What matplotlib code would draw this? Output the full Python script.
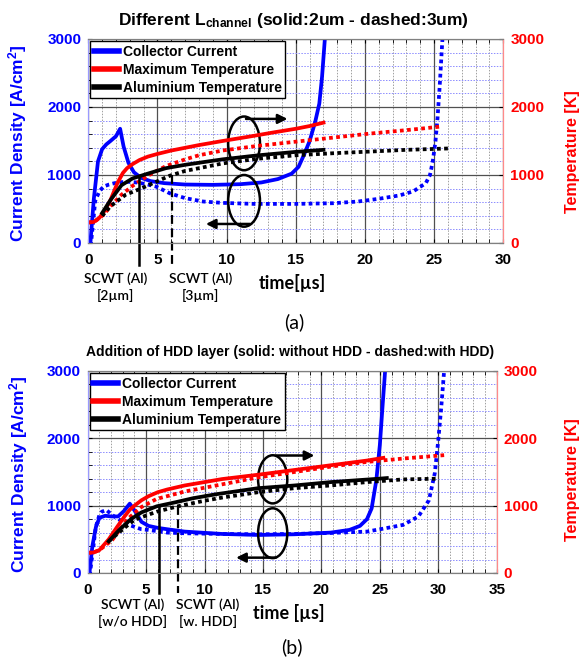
import matplotlib
matplotlib.use("Agg")
import matplotlib.pyplot as plt
from matplotlib.lines import Line2D
from matplotlib.patches import Ellipse
from matplotlib.ticker import MultipleLocator

plt.rcParams['font.family'] = ['Liberation Sans', 'DejaVu Sans']
plt.rcParams['font.weight'] = 'bold'
plt.rcParams['axes.labelweight'] = 'bold'
plt.rcParams['mathtext.fontset'] = 'custom'
plt.rcParams['mathtext.rm'] = 'Liberation Sans:bold'
plt.rcParams['mathtext.bf'] = 'Liberation Sans:bold'
plt.rcParams['mathtext.default'] = 'bf'

BLUE = '#0000ff'
RED = '#ff0000'
NOTE_FONT = ['Lato', 'DejaVu Sans']

### (a) channel length 2um (solid) vs 3um (dashed)

A_T_CUR_2UM = [0, 0.15, 0.4, 0.7, 1.0, 1.3, 1.6, 2.0, 2.3, 2.55, 2.9, 3.3, 3.8, 4.5, 5.5, 7, 9, 11,
               12.5, 13.7, 14.7, 15.2, 15.6, 16.0, 16.4, 16.7, 16.9, 17.1]
A_CUR_2UM = [0, 0, 650, 1200, 1380, 1450, 1500, 1570, 1680, 1420, 1180, 1040, 960, 910, 880, 860, 855, 865,
             890, 940, 1020, 1120, 1300, 1500, 1780, 2050, 2450, 3000]

A_T_CUR_3UM = [0, 0.2, 0.5, 0.8, 1.1, 1.5, 1.9, 2.4, 2.9, 3.5, 4.2, 4.9, 5.9, 7.0, 8.3, 9.7, 12, 15, 17.7,
               19.5, 21, 22.5, 23.5, 24.4, 24.7, 24.9, 25.1, 25.25, 25.4, 25.6]
A_CUR_3UM = [0, 0, 620, 760, 830, 860, 880, 895, 900, 890, 865, 830, 730, 660, 610, 590, 575, 575, 585,
             610, 650, 700, 760, 880, 1000, 1200, 1500, 1850, 2300, 3000]

A_T_TMAX_2UM = [0, 0.4, 0.8, 1.2, 1.6, 2.1, 2.5, 2.8, 3.2, 3.7, 4.3, 5.0, 6.0, 7.0, 8.0, 9.7, 11.5, 13.5,
                15.0, 16.0, 17.0]
A_TMAX_2UM = [300, 310, 370, 480, 630, 880, 1030, 1100, 1160, 1220, 1270, 1310, 1360, 1400, 1440, 1500,
              1560, 1630, 1680, 1720, 1770]

A_T_TMAX_3UM = [0, 0.5, 1.1, 1.6, 2.4, 3.2, 4.3, 5.6, 7.0, 8.0, 9.7, 12.3, 15.0, 17.7, 20.4, 23.0, 25.4]
A_TMAX_3UM = [300, 320, 415, 540, 710, 840, 990, 1130, 1230, 1290, 1360, 1430, 1490, 1550, 1610, 1660, 1710]

A_T_TAL_2UM = [1.0, 1.6, 2.4, 3.2, 4.3, 5.6, 7.0, 8.0, 9.7, 12.3, 15.0, 17.0]
A_TAL_2UM = [440, 630, 850, 950, 1020, 1100, 1150, 1180, 1230, 1290, 1340, 1370]

A_T_TAL_3UM = [1.0, 1.6, 2.7, 3.8, 4.9, 5.9, 7.0, 8.0, 9.7, 12.3, 15.0, 17.7, 20.4, 23.0, 26.0]
A_TAL_3UM = [400, 540, 710, 800, 900, 990, 1060, 1100, 1170, 1240, 1290, 1320, 1345, 1370, 1390]

# short-circuit withstand times and where the markers start on the curves
A_SCWT = [3.65, 6.03]
A_SCWT_TOP = [960, 1000]
A_SCWT_LABELS = ["SCWT (Al)\n[2\u00b5m]", "SCWT (Al)\n[3\u00b5m]"]
A_SCWT_LABEL_X = [1.95, 8.1]

### (b) without HDD (solid) vs with HDD (dashed)

B_T_CUR_NOHDD = [0, 0.15, 0.4, 0.7, 1.0, 1.5, 2.0, 2.6, 3.1, 3.6, 4.0, 4.6, 5.2, 6.0, 6.8, 8.3, 11.5, 14.6,
                 17.7, 20.8, 22.4, 23.3, 23.9, 24.3, 24.7, 25.0, 25.2, 25.45]
B_CUR_NOHDD = [0, 0, 400, 680, 820, 850, 840, 840, 920, 1030, 930, 760, 700, 670, 650, 615, 580, 565,
               575, 600, 640, 700, 800, 960, 1380, 1900, 2400, 3000]

B_T_CUR_HDD = [0, 0.2, 0.7, 1.0, 1.2, 1.6, 2.1, 3.0, 3.6, 4.6, 5.2, 6.8, 8.3, 11.5, 14.6, 17.7, 20.8,
               23.9, 25.5, 27.0, 28.3, 29.2, 29.7, 30.0, 30.25, 30.5]
B_CUR_HDD = [0, 0, 690, 860, 910, 935, 860, 760, 710, 650, 640, 600, 590, 580, 575, 580, 595,
             615, 665, 715, 840, 1080, 1480, 1970, 2450, 3000]

B_T_TMAX_NOHDD = [0, 0.5, 1.0, 1.8, 2.5, 3.15, 3.6, 4.0, 4.6, 5.2, 6.0, 6.8, 8.3, 11.5, 14.6, 17.7, 20.8,
                  23.9, 25.3]
B_TMAX_NOHDD = [300, 305, 340, 500, 680, 840, 940, 1000, 1080, 1140, 1200, 1240, 1300, 1395, 1460, 1530,
                1600, 1670, 1710]

B_T_TMAX_HDD = [0, 0.5, 1.0, 2.1, 3.4, 4.6, 5.9, 8.3, 11.0, 14.6, 17.7, 20.8, 23.9, 27.0, 30.5]
B_TMAX_HDD = [300, 305, 340, 490, 800, 980, 1100, 1210, 1300, 1420, 1500, 1580, 1650, 1700, 1750]

B_T_TAL_NOHDD = [1.8, 2.7, 3.7, 4.6, 5.9, 7.5, 9.0, 11.0, 14.6, 17.7, 20.8, 24.9, 25.6]
B_TAL_NOHDD = [470, 640, 800, 900, 990, 1050, 1110, 1170, 1260, 1300, 1350, 1400, 1410]

B_T_TAL_HDD = [1.8, 3.0, 4.0, 5.9, 7.7, 9.9, 11.5, 14.6, 17.7, 20.8, 23.9, 27.0, 29.8]
B_TAL_HDD = [470, 650, 790, 910, 990, 1070, 1120, 1200, 1260, 1300, 1350, 1390, 1400]

B_SCWT = [6.08, 7.73]
B_SCWT_TOP = [995, 1000]
B_SCWT_LABELS = ["SCWT (Al)\n[w/o HDD]", "SCWT (Al)\n[w. HDD]"]
B_SCWT_LABEL_X = [3.83, 10.3]

LEGEND_LABELS = ["Collector Current", "Maximum Temperature", "Aluminium Temperature"]
Y_TICKS = [0, 1000, 2000, 3000]

DOTS = (0, (1.0, 0.9))


def setup_axes(fig, rect, xmax):
	ax = fig.add_axes(rect)
	ax2 = ax.twinx()
	ax.set_xlim(0, xmax)
	ax.set_ylim(0, 3000)
	ax2.set_ylim(0, 3000)
	ax.xaxis.set_major_locator(MultipleLocator(5))
	ax.xaxis.set_minor_locator(MultipleLocator(1))
	ax.set_yticks(Y_TICKS)
	ax2.set_yticks(Y_TICKS)
	ax.yaxis.set_minor_locator(MultipleLocator(200))

	# MATLAB-ish grid: solid majors, dotted minors
	ax.grid(which='major', axis='both', color='#505050', lw=0.9, ls='-')
	ax.grid(which='minor', axis='x', color='#a0a0a0', lw=0.7, ls=(0, (1.5, 1.5)))
	ax.grid(which='minor', axis='y', color='#8c8cff', lw=0.7, ls=(0, (1.5, 1.5)))
	ax.set_axisbelow(True)

	ax.tick_params(which='both', direction='in', top=True, right=False, length=3)
	ax.tick_params(axis='x', which='major', labelsize=11, pad=7)
	ax.tick_params(axis='y', labelsize=11, labelcolor=BLUE, pad=5)
	ax2.tick_params(which='both', direction='in', length=3, labelsize=11, labelcolor=RED, pad=5)
	for lab in ax.get_xticklabels() + ax.get_yticklabels() + ax2.get_yticklabels():
		lab.set_fontweight('bold')

	for a in (ax, ax2):
		a.spines['left'].set_color('#9a9aff')
		a.spines['right'].set_color('#ff8a8a')
		a.spines['top'].set_color('#808080')
		a.spines['bottom'].set_color('#808080')
	return ax, ax2


def draw_panel(ax, ax2, cur, tmax, tal):
	lw = 2.7
	ax.plot(cur[0], cur[1], color=BLUE, lw=lw)
	ax.plot(cur[2], cur[3], color=BLUE, lw=lw, ls=DOTS)
	ax2.plot(tmax[0], tmax[1], color=RED, lw=lw)
	ax2.plot(tmax[2], tmax[3], color=RED, lw=lw, ls=DOTS)
	ax2.plot(tal[0], tal[1], color='k', lw=lw)
	ax2.plot(tal[2], tal[3], color='k', lw=lw, ls=DOTS)

	handles = [Line2D([], [], color=c, lw=4) for c in (BLUE, RED, 'k')]
	leg = ax2.legend(handles, LEGEND_LABELS, loc='upper left', fontsize=10, handlelength=1.8,
					 handletextpad=0.3, labelspacing=0.3, borderpad=0.25, borderaxespad=0.15,
					 fancybox=False, framealpha=1, edgecolor='k')
	leg.get_frame().set_linewidth(1.0)


def scwt_markers(ax, times, tops, labels, label_x, bottom, label_y):
	ax.plot([times[0], times[0]], [tops[0], bottom], color='k', lw=1.8, clip_on=False)
	ax.plot([times[1], times[1]], [tops[1], bottom], color='k', lw=1.6, ls=(0, (4, 2)), clip_on=False)
	for x, s in zip(label_x, labels):
		ax.text(x, label_y, s, ha='center', va='center', fontsize=10, family=NOTE_FONT,
				fontweight='semibold', linespacing=1.35, clip_on=False)


def ellipse_arrows(ax, x, top_c, bot_c, w, h_top, h_bot, arrow_top, arrow_bot):
	ax.add_patch(Ellipse((x, top_c), w, h_top, fill=False, ec='k', lw=1.8))
	ax.add_patch(Ellipse((x, bot_c), w, h_bot, fill=False, ec='k', lw=1.8))
	style = dict(arrowstyle='-|>', color='k', lw=1.8, mutation_scale=14, shrinkA=0, shrinkB=0)
	ax.annotate('', xy=arrow_top[1], xytext=arrow_top[0], arrowprops=style)
	ax.annotate('', xy=arrow_bot[1], xytext=arrow_bot[0], arrowprops=style)


fig = plt.figure(figsize=(5.79, 6.59), dpi=100)

### panel (a)
ax, ax2 = setup_axes(fig, [88.3 / 579, 1 - 243 / 659, 415 / 579, 204 / 659], 30)
draw_panel(ax, ax2,
		   (A_T_CUR_2UM, A_CUR_2UM, A_T_CUR_3UM, A_CUR_3UM),
		   (A_T_TMAX_2UM, A_TMAX_2UM, A_T_TMAX_3UM, A_TMAX_3UM),
		   (A_T_TAL_2UM, A_TAL_2UM, A_T_TAL_3UM, A_TAL_3UM))
scwt_markers(ax2, A_SCWT, A_SCWT_TOP, A_SCWT_LABELS, A_SCWT_LABEL_X, -324, -654)
ellipse_arrows(ax2, 11.26, 1465, 620, 2.3, 790, 760,
			   ((11.4, 1825), (14.4, 1825)), ((11.7, 280), (8.5, 280)))
ax.set_ylabel('Current Density [A/cm$^2$]', color=BLUE, fontsize=12.5)
ax.yaxis.set_label_coords(-0.142, 0.49)
ax2.set_ylabel('Temperature [K]', color=RED, fontsize=11.5)
ax2.yaxis.set_label_coords(1.149, 0.45)
ax.text(0.4925, -0.196, 'time[\u00b5s]', transform=ax.transAxes, ha='center', va='center',
		fontsize=13, family=NOTE_FONT, fontweight='bold')
fig.text(293 / 579, 1 - 20 / 659, 'Different L$_{channel}$ (solid:2um - dashed:3um)',
		 ha='center', va='center', fontsize=12.5)
fig.text(294 / 579, 1 - 322 / 659, '(a)', ha='center', va='center', fontsize=14,
		 family=NOTE_FONT, fontweight='normal')

### panel (b)
bx, bx2 = setup_axes(fig, [87.7 / 579, 1 - 573 / 659, 409 / 579, 202 / 659], 35)
draw_panel(bx, bx2,
		   (B_T_CUR_NOHDD, B_CUR_NOHDD, B_T_CUR_HDD, B_CUR_HDD),
		   (B_T_TMAX_NOHDD, B_TMAX_NOHDD, B_T_TMAX_HDD, B_TMAX_HDD),
		   (B_T_TAL_NOHDD, B_TAL_NOHDD, B_T_TAL_HDD, B_TAL_HDD))
scwt_markers(bx2, B_SCWT, B_SCWT_TOP, B_SCWT_LABELS, B_SCWT_LABEL_X, -297, -597)
ellipse_arrows(bx2, 15.83, 1391, 591, 2.5, 715, 740,
			   ((16.1, 1745), (19.4, 1745)), ((16.1, 228), (12.7, 228)))
bx.set_ylabel('Current Density [A/cm$^2$]', color=BLUE, fontsize=12.5)
bx.yaxis.set_label_coords(-0.142, 0.49)
bx2.set_ylabel('Temperature [K]', color=RED, fontsize=11.5)
bx2.yaxis.set_label_coords(1.167, 0.46)
bx.text(0.4925, -0.198, 'time [\u00b5s]', transform=bx.transAxes, ha='center', va='center',
		fontsize=13, family=NOTE_FONT, fontweight='bold')
fig.text(290 / 579, 1 - 352 / 659, 'Addition of HDD layer (solid: without HDD - dashed:with HDD)',
		 ha='center', va='center', fontsize=10)
fig.text(292 / 579, 1 - 647 / 659, '(b)', ha='center', va='center', fontsize=14,
		 family=NOTE_FONT, fontweight='normal')

fig.savefig('out.png', dpi=100)
